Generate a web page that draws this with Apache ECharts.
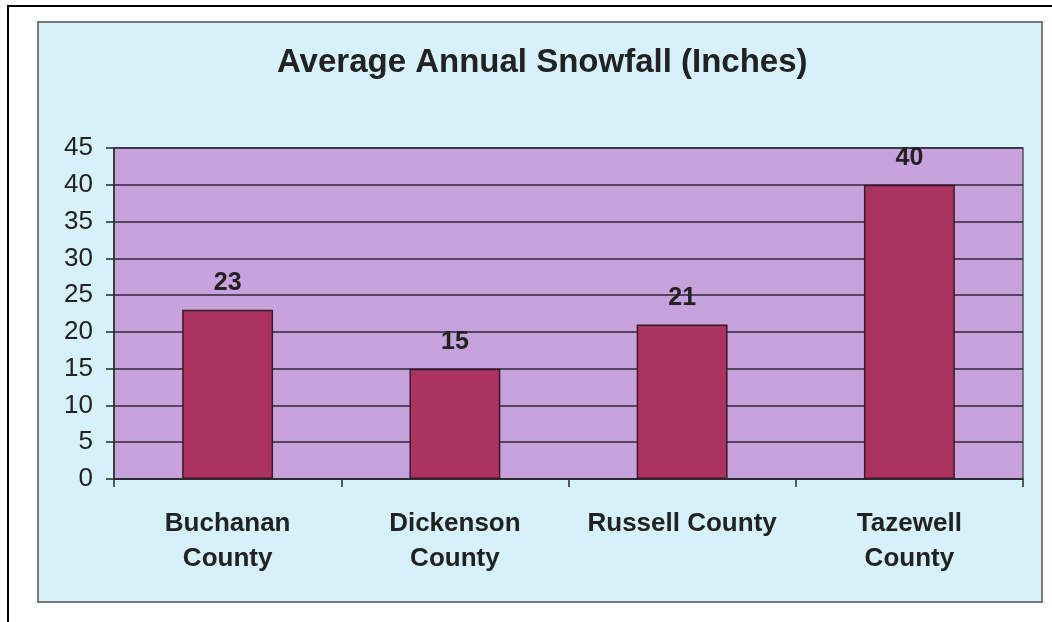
<!DOCTYPE html>
<html>
<head>
<meta charset="utf-8">
<script src="https://cdn.jsdelivr.net/npm/echarts@6/dist/echarts.min.js"></script>
<style>
html,body{margin:0;padding:0;background:#fff;}
#c{width:1052px;height:622px;}
</style>
</head>
<body>
<div id="c"></div>
<script>
const titleText = 'Average Annual Snowfall (Inches)';
const categories = ['Buchanan\nCounty', 'Dickenson\nCounty', 'Russell County', 'Tazewell\nCounty'];
const snowfall = [23, 15, 21, 40];
const yTicks = [0, 5, 10, 15, 20, 25, 30, 35, 40, 45];

const chart = echarts.init(document.getElementById('c'));
const font = '"Liberation Sans", Arial, sans-serif';
chart.setOption({
  backgroundColor: '#ffffff',
  animation: false,
  graphic: [
    { type: 'rect', z: -100, shape: { x: 8, y: 6, width: 1100, height: 700 },
      style: { fill: '#ffffff', stroke: '#000000', lineWidth: 2 } },
    { type: 'rect', z: -99, shape: { x: 38, y: 22, width: 1004, height: 580 },
      style: { fill: '#d6f1f9', stroke: '#7a7a7a', lineWidth: 2 } }
  ],
  title: {
    text: titleText,
    left: 272,
    top: 41,
    textStyle: { fontFamily: font, fontSize: 33, fontWeight: 'bold', color: '#222222' }
  },
  grid: {
    left: 114, right: 29, top: 148, bottom: 143,
    show: true, backgroundColor: '#c8a2dc', borderColor: '#555555', borderWidth: 1.5
  },
  xAxis: {
    type: 'category',
    data: categories,
    axisLine: { lineStyle: { color: '#2a2a2a', width: 1.5 } },
    axisTick: { show: true, length: 8, lineStyle: { color: '#2a2a2a', width: 1.5 } },
    axisLabel: { margin: 27, fontFamily: font, fontSize: 26, fontWeight: 'bold', color: '#222222', lineHeight: 35, interval: 0 }
  },
  yAxis: {
    type: 'value',
    min: yTicks[0], max: yTicks[yTicks.length - 1], interval: 5,
    axisLine: { show: true, lineStyle: { color: '#2a2a2a', width: 1.5 } },
    axisTick: { show: true, length: 8, lineStyle: { color: '#2a2a2a', width: 1.5 } },
    splitLine: { lineStyle: { color: '#2e2438', width: 1.5 } },
    axisLabel: { margin: 21, fontFamily: font, fontSize: 26, color: '#222222' }
  },
  series: [{
    type: 'bar',
    data: snowfall,
    barWidth: '40%',
    itemStyle: { color: '#aa3360', borderColor: '#3a1a28', borderWidth: 1.5 },
    label: { show: true, position: 'top', distance: 14, fontFamily: font, fontSize: 25, fontWeight: 'bold', color: '#222222' }
  }]
});
</script>
</body>
</html>
